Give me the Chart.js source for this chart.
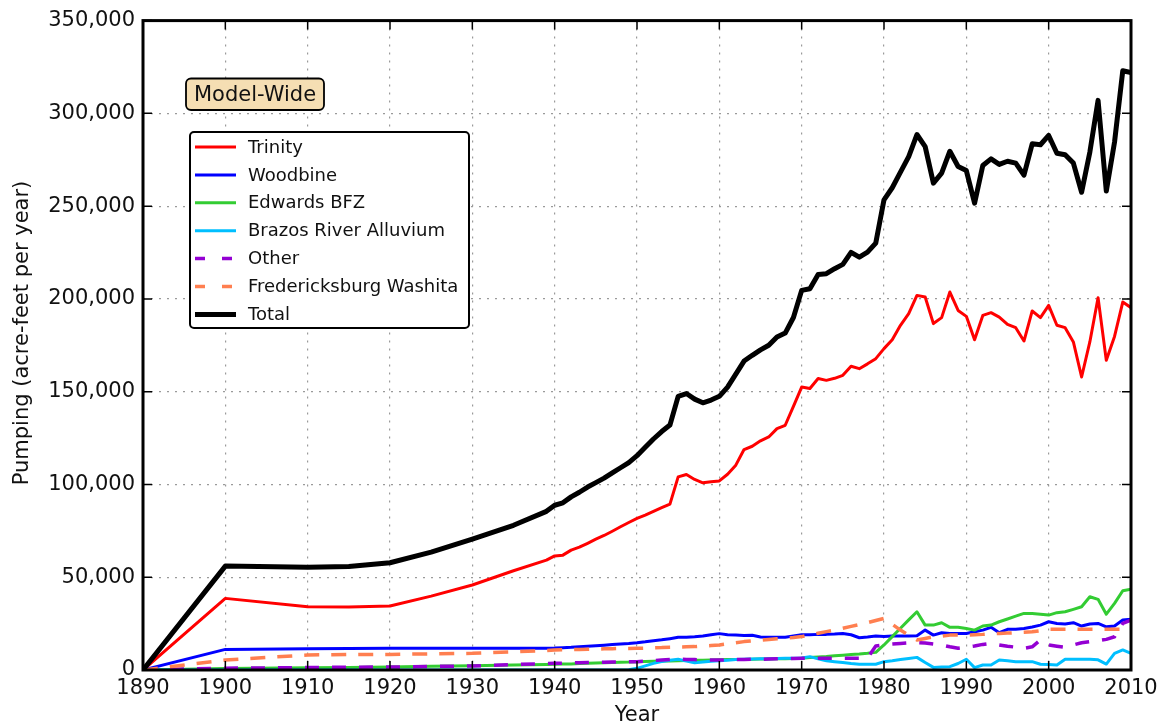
<!DOCTYPE html>
<html><head><meta charset="utf-8">
<script src="https://cdn.jsdelivr.net/npm/chart.js@4.4.0/dist/chart.umd.min.js"></script>
<style>html,body{margin:0;padding:0;background:#fff;}canvas{display:block;}</style>
</head><body>
<canvas id="c" width="1164" height="727"></canvas>
<script>
const years = [1890,1900,1910,1915,1920,1925,1930,1935,1939,
 1940,1941,1942,1943,1944,1945,1946,1947,1948,1949,
 1950,1951,1952,1953,1954,1955,1956,1957,1958,1959,
 1960,1961,1962,1963,1964,1965,1966,1967,1968,1969,
 1970,1971,1972,1973,1974,1975,1976,1977,1978,1979,
 1980,1981,1982,1983,1984,1985,1986,1987,1988,1989,
 1990,1991,1992,1993,1994,1995,1996,1997,1998,1999,
 2000,2001,2002,2003,2004,2005,2006,2007,2008,2009,2010];

const trinity = [0,38600,34100,33900,34500,39800,45800,53500,59200,
 61500,61900,64600,66200,68300,70500,72500,74800,77200,79500,
 81700,83500,85500,87500,89400,104100,105400,102700,100900,101500,
 101900,105500,110400,118800,120600,123500,125600,130100,131900,142100,
 152500,151700,157100,156100,157200,158800,163700,162400,165000,167800,
 173200,178000,185800,192100,201900,201000,186700,189900,203700,193800,
 190600,178000,191100,192600,190200,186300,184500,177300,193500,189900,
 196500,185800,184500,176800,157900,176800,200600,166900,179800,198300,195300];

const woodbine = [0,11100,11500,11600,11700,11700,11700,11700,11700,
 11800,12000,12200,12500,12800,13100,13400,13700,14000,14300,
 14700,15200,15800,16300,16900,17600,17600,17900,18300,19000,
 19600,19000,18800,18600,18700,17800,17600,17600,17700,18300,
 19000,19000,19200,19200,19400,19700,19000,17400,17800,18300,
 18000,18300,18300,18300,18500,21500,18800,20100,19700,19700,
 19700,20600,21500,23000,20100,21900,22000,22400,23200,24200,
 26000,25100,24800,25500,23700,24800,25100,23300,23700,26900,27300];

const edwards = [0,800,1200,1400,1600,2000,2300,2700,3000,
 3100,3200,3300,3500,3600,3800,3900,4000,4200,4300,
 4500,4600,4700,4800,4900,5000,5100,5200,5300,5400,
 5500,5600,5600,5700,5800,5900,5900,6000,6100,6200,
 6300,6700,7000,7300,7700,8000,8300,8600,9000,9500,
 13500,18000,22500,27000,31400,24200,24200,25500,23000,23000,
 22400,21500,23700,24200,26000,27500,29000,30500,30500,30100,
 29600,30900,31400,32700,34100,39500,38100,30100,35900,42700,43500];

const brazos = [0,0,0,0,0,0,0,0,0,
 0,0,0,0,0,0,0,0,0,200,
 900,2200,3600,4500,5300,5800,4800,3900,4300,4700,
 5000,5300,5600,5800,5900,6000,6100,6200,6300,6300,
 6500,7200,6000,5000,4500,4000,3500,3100,3100,3100,
 4500,5000,5600,6200,6800,4000,1400,1600,1800,3500,
 5800,1300,2700,2700,5400,5000,4500,4500,4500,3100,
 2900,2700,5800,5800,5800,5800,5500,3200,9000,10800,9000];

const other = [0,1000,1300,1500,1600,1900,2200,2900,3500,
 3600,3700,3800,3900,4000,4100,4200,4300,4400,4450,
 4500,4800,5100,5400,5700,5800,5700,5600,5500,5400,
 5400,5500,5600,5700,5800,5800,5900,6000,6100,6200,
 6300,6300,6300,6300,6300,6300,6300,6300,6400,12900,
 13500,14000,14300,14600,14700,14500,14000,13500,12500,11700,
 12300,12900,13800,14400,13500,12800,12300,11700,12500,16200,
 13500,12800,12200,13500,14700,15300,15800,16500,17900,25100,26900];

const fredWashita = [0,5400,8100,8300,8400,8700,9000,9800,10500,
 10800,10900,11000,11100,11200,11300,11400,11500,11600,11650,
 11700,11800,12000,12100,12300,12400,12500,12600,12900,13200,
 13500,14100,14700,15300,15700,16000,16400,16800,17100,17500,
 18000,18900,19800,20700,21500,22500,23500,24500,25500,26700,
 27800,24600,21500,18800,16200,17000,17900,18300,18800,18800,
 18800,19000,19200,19500,19700,19900,20100,20300,20600,21200,
 21900,21900,21900,21900,21900,21900,21900,21900,21900,21900,21900];

const total = [0,56000,55400,55800,57800,63500,70500,78000,85500,
 88800,90100,93300,95800,98600,101000,103400,106200,109000,111800,
 115500,120000,124500,128500,132000,147500,149000,146000,144000,145500,
 147500,152500,159500,166500,169600,172500,175000,179500,181600,190000,
 204600,205500,213200,213600,216300,218600,225100,222500,225200,230100,
 253400,259900,268300,276700,288600,282100,262400,267800,279600,271400,
 269200,251600,271900,275500,272500,274200,273200,266700,283600,283100,
 288100,278500,277700,273200,257500,279100,307000,258100,284500,323000,322000];

const seriesNames = ['Trinity','Woodbine','Edwards BFZ','Brazos River Alluvium','Other','Fredericksburg Washita','Total'];
const xTickValues = [1890,1900,1910,1920,1930,1940,1950,1960,1970,1980,1990,2000,2010];
const yTickValues = [0,50000,100000,150000,200000,250000,300000,350000];
const xTitle = 'Year';
const yTitle = 'Pumping (acre-feet per year)';
const boxLabel = 'Model-Wide';

const FONT = '"DejaVu Sans", sans-serif';
const seriesData = [trinity, woodbine, edwards, brazos, other, fredWashita, total];
const styles = [
  {color:'#ff0000', width:3, dash:[]},
  {color:'#0000ff', width:3, dash:[]},
  {color:'#33cc33', width:3, dash:[]},
  {color:'#00bfff', width:3, dash:[]},
  {color:'#9400d3', width:3.5, dash:[14,13]},
  {color:'#ff7f50', width:3.5, dash:[15,12]},
  {color:'#000000', width:5, dash:[]}
];

const datasets = seriesData.map((arr, i) => ({
  label: seriesNames[i],
  data: arr.map((v, j) => ({x: years[j], y: v})),
  borderColor: styles[i].color,
  backgroundColor: styles[i].color,
  borderWidth: styles[i].width,
  borderDash: styles[i].dash,
  borderCapStyle: 'butt',
  borderJoinStyle: 'round',
  pointRadius: 0,
  tension: 0,
  fill: false,
  order: seriesData.length - i
}));

const decorPlugin = {
  id: 'decor',
  afterDraw(chart) {
    const ctx = chart.ctx;
    const a = chart.chartArea;
    const xs = chart.scales.x, ys = chart.scales.y;
    ctx.save();
    // inward ticks
    ctx.strokeStyle = '#000';
    ctx.lineWidth = 1.5;
    const tl = 9;
    ctx.beginPath();
    xTickValues.forEach(v => {
      const px = xs.getPixelForValue(v);
      ctx.moveTo(px, a.bottom); ctx.lineTo(px, a.bottom - tl);
      ctx.moveTo(px, a.top); ctx.lineTo(px, a.top + tl);
    });
    yTickValues.forEach(v => {
      const py = ys.getPixelForValue(v);
      ctx.moveTo(a.left, py); ctx.lineTo(a.left + tl, py);
      ctx.moveTo(a.right, py); ctx.lineTo(a.right - tl, py);
    });
    ctx.stroke();
    // frame
    ctx.lineWidth = 3;
    ctx.strokeRect(a.left, a.top, a.right - a.left, a.bottom - a.top);

    // axis titles
    ctx.fillStyle = '#111';
    ctx.font = '21px ' + FONT;
    ctx.textAlign = 'center';
    ctx.textBaseline = 'middle';
    ctx.fillText(xTitle, (a.left + a.right) / 2, 716);
    ctx.save();
    ctx.translate(23, 333);
    ctx.rotate(-Math.PI / 2);
    ctx.font = '21px ' + FONT;
    ctx.fillText(yTitle, 0, 0);
    ctx.restore();

    // Model-Wide box
    ctx.beginPath();
    ctx.roundRect(186, 78.5, 138, 31.5, 5);
    ctx.fillStyle = '#f5deb3';
    ctx.fill();
    ctx.lineWidth = 1.8;
    ctx.strokeStyle = '#000';
    ctx.stroke();
    ctx.fillStyle = '#111';
    ctx.font = '21px ' + FONT;
    ctx.textAlign = 'center';
    ctx.fillText(boxLabel, 255, 95.5);

    // legend
    ctx.beginPath();
    ctx.roundRect(190, 132, 279, 196, 4);
    ctx.fillStyle = '#fff';
    ctx.fill();
    ctx.lineWidth = 2;
    ctx.strokeStyle = '#000';
    ctx.stroke();
    ctx.font = '18px ' + FONT;
    ctx.textAlign = 'left';
    chart.data.datasets.forEach((ds, i) => {
      const y = 147 + i * 27.9;
      ctx.beginPath();
      ctx.setLineDash(ds.borderDash && ds.borderDash.length ? [10, 17] : []);
      ctx.lineDashOffset = 0;
      ctx.strokeStyle = ds.borderColor;
      ctx.lineWidth = ds.borderWidth;
      ctx.lineCap = 'butt';
      ctx.moveTo(195, y); ctx.lineTo(236, y);
      ctx.stroke();
      ctx.setLineDash([]);
      ctx.fillStyle = '#111';
      ctx.fillText(ds.label, 248, y + 1);
    });
    ctx.restore();
  }
};

new Chart(document.getElementById('c'), {
  type: 'line',
  data: { datasets },
  options: {
    responsive: false,
    animation: false,
    devicePixelRatio: 1,
    layout: { padding: { left: 0, top: 20, right: 33, bottom: 0 } },
    plugins: { legend: { display: false }, tooltip: { enabled: false } },
    scales: {
      x: {
        type: 'linear', min: 1890, max: 2010,
        afterBuildTicks(s) { s.ticks = xTickValues.map(v => ({value: v})); },
        afterFit(s) { s.height = 57; },
        ticks: { color: '#111', font: { family: FONT, size: 21 }, padding: 6, maxRotation: 0, autoSkip: false, callback: v => String(v) },
        grid: { color: '#9a9a9a', lineWidth: 1.2, drawTicks: false },
        border: { display: false, dash: [2, 6] }
      },
      y: {
        type: 'linear', min: 0, max: 350000,
        afterBuildTicks(s) { s.ticks = yTickValues.map(v => ({value: v})); },
        afterFit(s) { s.width = 143; },
        ticks: { color: '#111', font: { family: FONT, size: 21 }, padding: 8, callback: v => v.toLocaleString('en-US') },
        grid: { color: '#9a9a9a', lineWidth: 1.2, drawTicks: false },
        border: { display: false, dash: [2, 6] }
      }
    }
  },
  plugins: [decorPlugin]
});
</script>
</body></html>
